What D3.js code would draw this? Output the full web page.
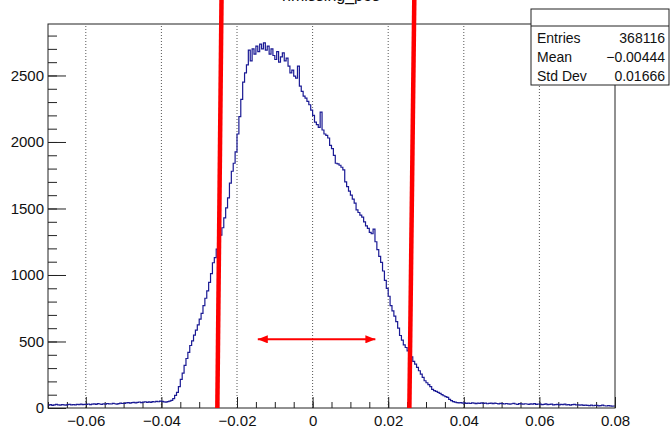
<!DOCTYPE html>
<html>
<head>
<meta charset="utf-8">
<script src="https://cdn.jsdelivr.net/npm/d3@7"></script>
<style>
body { margin: 0; background: #fff; }
svg { display: block; font-family: "Liberation Sans", Arial, sans-serif; }
</style>
</head>
<body>
<svg id="chart" width="672" height="430"></svg>
<script>
// histogram: 300 bins from -0.07 to 0.08
var xMin = -0.07, xMax = 0.08, binWidth = 0.0005;
var counts = [
  22, 25, 20, 24, 27, 23, 21, 26, 24, 22, 25, 28, 23, 26, 24, 27, 25, 29, 26, 28,
  27, 30, 26, 29, 31, 28, 33, 30, 27, 32, 29, 34, 31, 30, 35, 32, 29, 33, 36, 34,
  35, 38, 41, 37, 40, 43, 39, 42, 45, 40, 44, 47, 43, 46, 42, 48, 45, 50, 47, 52,
  50, 46, 44, 48, 52, 58, 70, 95, 118, 160, 215, 262, 320, 372, 418, 470, 505, 548, 585, 625,
  668, 712, 770, 825, 880, 945, 1010, 1092, 1130, 1195, 1240, 1300, 1355, 1430, 1505, 1580, 1690, 1780, 1840, 1925,
  2060, 2190, 2320, 2450, 2520, 2580, 2690, 2610, 2700, 2660, 2720, 2680, 2735, 2700, 2745, 2690, 2720, 2660, 2700, 2650,
  2620, 2680, 2600, 2640, 2670, 2610, 2630, 2570, 2520, 2540, 2495, 2480, 2570, 2420, 2380, 2345, 2330, 2305, 2280, 2240,
  2200, 2150, 2130, 2110, 2225, 2090, 2060, 2050, 2030, 1975, 1950, 1900, 1840, 1835, 1825, 1810, 1790, 1700, 1665, 1630,
  1600, 1570, 1540, 1490, 1470, 1450, 1435, 1400, 1370, 1350, 1320, 1310, 1345, 1250, 1190, 1140, 1095, 1030, 960, 900,
  840, 770, 730, 690, 650, 600, 545, 510, 475, 455, 430, 410, 385, 350, 330, 305, 280, 255, 230, 205,
  190, 175, 160, 140, 130, 125, 118, 110, 100, 92, 86, 80, 65, 55, 48, 44, 40, 38, 41, 36,
  38, 35, 37, 34, 39, 36, 33, 37, 35, 38, 34, 36, 32, 35, 37, 33, 36, 34, 31, 35,
  33, 30, 34, 31, 29, 32, 35, 30, 28, 33, 31, 29, 32, 30, 27, 31, 29, 33, 28, 30,
  29, 26, 28, 31, 25, 27, 29, 24, 26, 28, 23, 27, 25, 29, 24, 26, 22, 25, 27, 23,
  24, 21, 23, 19, 22, 20, 18, 21, 17, 20, 19, 16, 18, 21, 17, 15, 18, 16, 14, 15
];
var yMax = 2887;
var xTicks = [-0.06, -0.04, -0.02, 0, 0.02, 0.04, 0.06, 0.08];
var yTicks = [0, 500, 1000, 1500, 2000, 2500];

// annotations drawn over the histogram
var cutLines = [{bottom: -0.0252, top: -0.0241}, {bottom: 0.0256, top: 0.0269}];
var arrowFrom = -0.0145, arrowTo = 0.0166, arrowLevel = 516;

var title = "hmissing_pos";
var statLabels = ["Entries", "Mean", "Std Dev"];
var statValues = ["368116", "\u22120.00444", "0.01666"];

var margin = {left: 48, right: 57, top: 24, bottom: 22};
var svg = d3.select("#chart");
var W = +svg.attr("width"), H = +svg.attr("height");

var x = d3.scaleLinear().domain([xMin, xMax]).range([margin.left, W - margin.right]);
var y = d3.scaleLinear().domain([0, yMax]).range([H - margin.bottom, margin.top]);

var minorX = d3.range(-70, 81, 5).map(function(d) { return d / 1000; });
var minorY = d3.range(0, 2801, 100);

// title (sits mostly above the canvas, as in the original)
svg.append("text")
    .attr("x", 331).attr("y", 1)
    .attr("text-anchor", "middle")
    .attr("font-size", 16)
    .attr("fill", "#111")
    .text(title);

// vertical dotted grid
svg.append("g").selectAll("line")
    .data(xTicks.filter(function(d) { return d < xMax; }))
    .enter().append("line")
    .attr("x1", function(d) { return x(d); })
    .attr("x2", function(d) { return x(d); })
    .attr("y1", y(0)).attr("y2", y(yMax))
    .attr("stroke", "#444")
    .attr("stroke-width", 0.9)
    .attr("stroke-dasharray", "1,2");

// x axis
svg.append("g")
    .attr("transform", "translate(0," + y(0) + ")")
    .call(d3.axisBottom(x).tickValues(xTicks).tickSize(-11).tickSizeOuter(0).tickPadding(7)
        .tickFormat(function(d) { return d === 0 ? "0" : d3.format(".2f")(d); }));
svg.append("g")
    .attr("transform", "translate(0," + y(0) + ")")
    .call(d3.axisBottom(x).tickValues(minorX).tickSize(-6).tickFormat(""));

// y axis
svg.append("g")
    .attr("transform", "translate(" + x(xMin) + ",0)")
    .call(d3.axisLeft(y).tickValues(yTicks).tickSize(-18).tickSizeOuter(0).tickPadding(4)
        .tickFormat(d3.format("d")));
svg.append("g")
    .attr("transform", "translate(" + x(xMin) + ",0)")
    .call(d3.axisLeft(y).tickValues(minorY).tickSize(-9).tickFormat(""));

svg.selectAll(".domain").remove();
svg.selectAll(".tick line").attr("stroke", "#222");
svg.selectAll(".tick text").attr("font-size", 15).attr("fill", "#111")
    .attr("font-family", "Liberation Sans, Arial, sans-serif");

// histogram as steps
var pts = counts.map(function(c, i) { return [xMin + i * binWidth, c]; });
pts.push([xMax, counts[counts.length - 1]]);

var line = d3.line()
    .x(function(d) { return x(d[0]); })
    .y(function(d) { return y(d[1]); })
    .curve(d3.curveStepAfter);

svg.append("path")
    .datum(pts)
    .attr("d", line)
    .attr("fill", "none")
    .attr("stroke", "#1a1a94")
    .attr("stroke-width", 1.2);

// frame
svg.append("rect")
    .attr("x", x(xMin)).attr("y", y(yMax))
    .attr("width", x(xMax) - x(xMin))
    .attr("height", y(0) - y(yMax))
    .attr("fill", "none")
    .attr("stroke", "#222")
    .attr("stroke-width", 1);

// red cut lines, running up past the frame to the top of the canvas
var topVal = y.invert(0);
svg.append("g").selectAll("line")
    .data(cutLines)
    .enter().append("line")
    .attr("x1", function(d) { return x(d.bottom); })
    .attr("y1", y(0))
    .attr("x2", function(d) { return x(d.top); })
    .attr("y2", y(topVal))
    .attr("stroke", "#ff0000")
    .attr("stroke-width", 4.5);

// double arrow
var defs = svg.append("defs");
defs.append("marker")
    .attr("id", "head")
    .attr("markerUnits", "userSpaceOnUse")
    .attr("viewBox", "0 0 10 8")
    .attr("refX", 10).attr("refY", 4)
    .attr("markerWidth", 11).attr("markerHeight", 8)
    .attr("orient", "auto-start-reverse")
    .append("path")
    .attr("d", "M0,0L10,4L0,8Z")
    .attr("fill", "#ff0000");

svg.append("line")
    .attr("x1", x(arrowFrom)).attr("x2", x(arrowTo))
    .attr("y1", y(arrowLevel)).attr("y2", y(arrowLevel))
    .attr("stroke", "#ff0000")
    .attr("stroke-width", 2)
    .attr("marker-start", "url(#head)")
    .attr("marker-end", "url(#head)");

// stats box
var box = svg.append("g");
box.append("rect")
    .attr("x", 531).attr("y", 9)
    .attr("width", 138).attr("height", 76)
    .attr("fill", "#fff")
    .attr("stroke", "#222");
box.append("line")
    .attr("x1", 531).attr("x2", 669)
    .attr("y1", 26).attr("y2", 26)
    .attr("stroke", "#222");
box.selectAll("text.lab")
    .data(statLabels)
    .enter().append("text")
    .attr("class", "lab")
    .attr("x", 537)
    .attr("y", function(d, i) { return 43 + i * 19; })
    .attr("font-size", 14)
    .attr("fill", "#111")
    .text(function(d) { return d; });
box.selectAll("text.val")
    .data(statValues)
    .enter().append("text")
    .attr("class", "val")
    .attr("x", 665)
    .attr("y", function(d, i) { return 43 + i * 19; })
    .attr("text-anchor", "end")
    .attr("font-size", 14)
    .attr("fill", "#111")
    .text(function(d) { return d; });
</script>
</body>
</html>
